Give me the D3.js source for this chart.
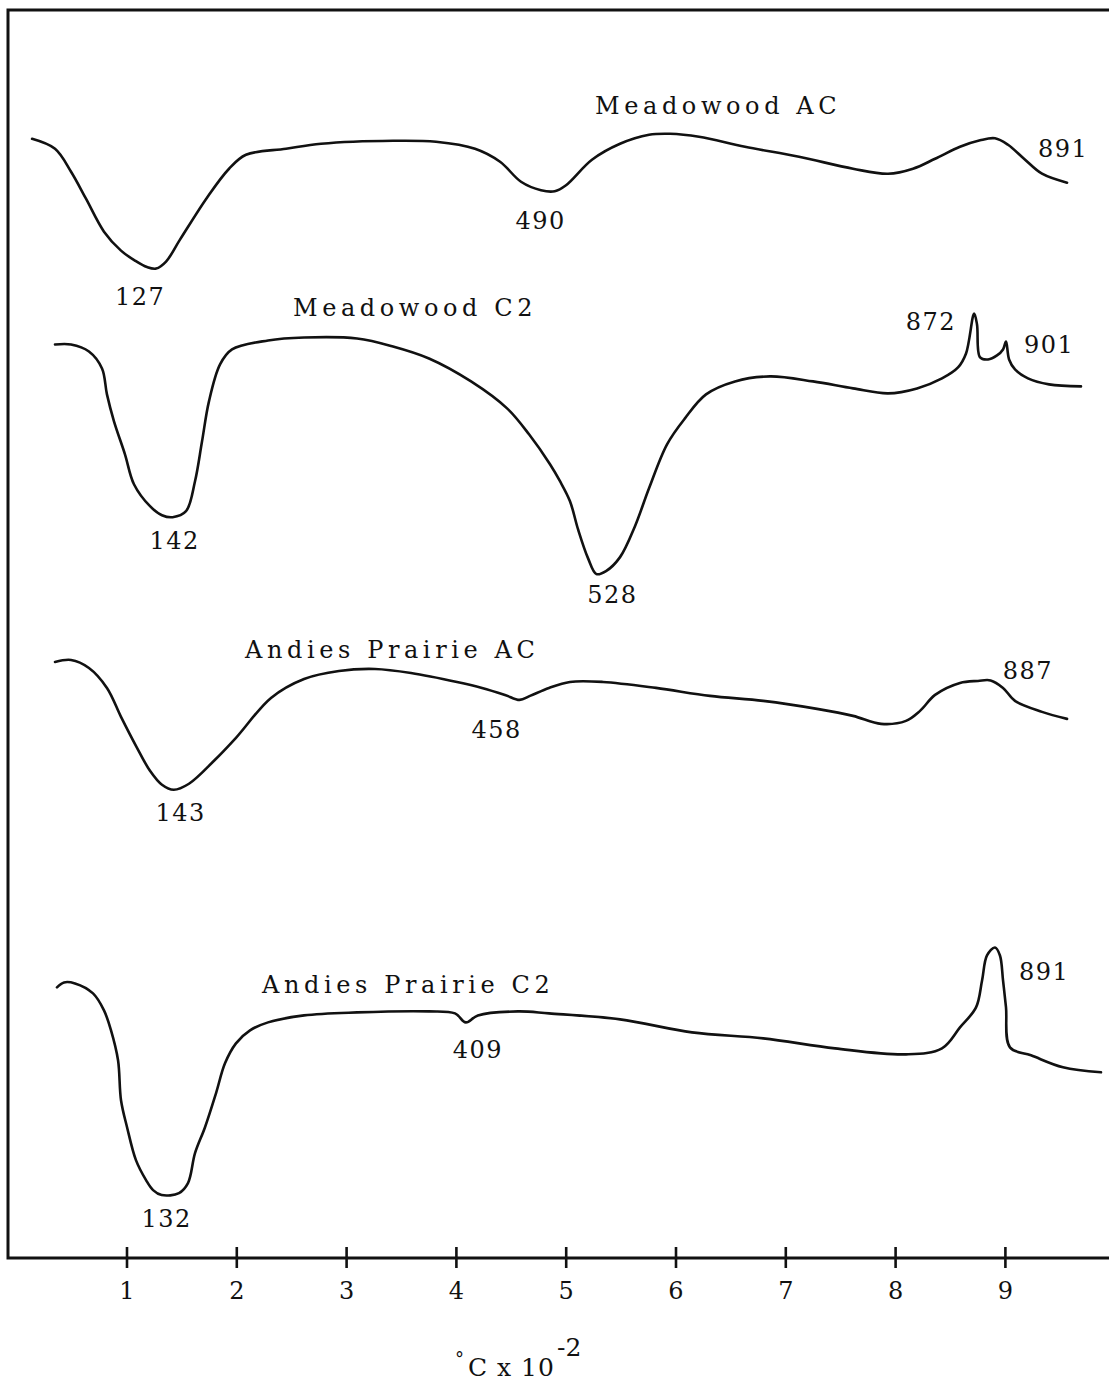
<!DOCTYPE html>
<html>
<head>
<meta charset="utf-8">
<script src="https://cdn.jsdelivr.net/npm/d3@7"></script>
<style>
  html, body { margin: 0; padding: 0; background: #fff; }
  svg { display: block; }
  .lbl { font-family: "DejaVu Serif", serif; fill: #111; }
</style>
</head>
<body>
<svg id="chart" width="1109" height="1385"></svg>
<script>
// Differential thermal analysis traces: temperature (°C) vs. deflection (arbitrary units,
// positive = exothermic), each trace drawn about its own vertical offset.

const seriesNames = ["Meadowood AC", "Meadowood C2", "Andies Prairie AC", "Andies Prairie C2"];
const traceOffsets = [111.8, 91.8, 58.8, 24.6];

const tempsMeadowoodAC = [14.0, 34.9, 49.5, 63.1, 79.5, 95.0, 107.7, 118.7, 127, 136.0, 148.7, 173.3, 193.4, 208.8,
  245.3, 277.2, 342.8, 381.9, 417.4, 440.2, 459.3, 477.5, 490, 500.3, 523.9, 549.5, 575.9, 595.0, 621.4, 663.3,
  712.5, 761.7, 793.6, 816.3, 836.4, 859.1, 877.4, 891, 902.8, 917.4, 933.8, 956.6];
const deflMeadowoodAC = [0.3, -0.7, -3.0, -5.7, -9.0, -10.9, -11.9, -12.55, -12.7, -12.0, -9.8, -5.6, -2.7, -1.3,
  -0.7, -0.2, 0.1, 0.0, -0.7, -2.0, -4.0, -4.85, -4.95, -4.35, -1.8, -0.2, 0.7, 0.8, 0.5, -0.5,
  -1.5, -2.7, -3.2, -2.7, -1.7, -0.5, 0.15, 0.35, -0.3, -1.7, -3.2, -4.1];

const tempsMeadowoodC2 = [34.9, 49.5, 65.8, 77.7, 82.2, 88.6, 98.6, 106.8, 121.4, 132.3, 142, 154.2, 162.4, 168.8,
  175.1, 185.2, 196.1, 228.9, 261.7, 310.0, 342.7, 375.5, 413.8, 446.6, 466.6, 485.7, 494.8, 503.9, 511.2, 520.3,
  528, 536.7, 549.5, 563.1, 575.9, 592.3, 608.6, 627.8, 654.2, 686.1, 725.3, 761.7, 793.6, 820.0, 842.7, 857.3,
  864.6, 872, 874.6, 877.4, 884.7, 892.8, 898.3, 901, 903.8, 909.2, 921.0, 940.2, 969.3];
const deflMeadowoodC2 = [-0.3, -0.3, -1.0, -2.7, -5.3, -8.0, -11.3, -14.3, -16.5, -17.4, -17.6, -17.0, -14.0, -10.0,
  -6.0, -2.3, -0.8, 0.1, 0.4, 0.3, -0.5, -1.7, -4.0, -6.7, -9.3, -12.3, -14.0, -16.0, -18.8, -21.7,
  -23.3, -23.0, -21.6, -18.5, -14.7, -10.3, -7.7, -5.3, -4.0, -3.5, -4.0, -4.7, -5.2, -4.7, -3.7, -2.6,
  -1.2, 2.8, 1.7, -1.6, -1.8, -1.4, -0.8, 0.0, -1.8, -2.8, -3.7, -4.3, -4.5];

const tempsAndiesAC = [34.9, 49.5, 65.8, 82.2, 95.0, 108.6, 121.4, 132.3, 143, 156.9, 179.7, 199.7, 231.6, 261.7,
  293.5, 326.3, 359.1, 401.0, 423.8, 444.7, 458, 467.5, 484.8, 503.9, 533.9, 582.3, 631.4, 679.9, 728.9, 761.7,
  787.2, 809.9, 822.7, 836.4, 859.1, 875.5, 887, 898.3, 909.2, 933.8, 956.6];
const deflAndiesAC = [0.9, 1.1, 0.3, -1.7, -4.6, -7.5, -10.0, -11.4, -11.9, -11.3, -9.0, -6.7, -2.7, -0.8,
  0.0, 0.2, -0.2, -1.1, -1.7, -2.4, -2.9, -2.5, -1.7, -1.1, -1.1, -1.7, -2.5, -3.0, -3.8, -4.5,
  -5.3, -5.0, -4.0, -2.4, -1.2, -1.0, -0.95, -1.7, -3.0, -4.1, -4.8];

const tempsAndiesC2 = [36.7, 43.1, 53.1, 69.5, 79.5, 85.9, 92.3, 95.0, 100.5, 108.6, 117.8, 124.2, 132, 147.8,
  156.0, 162.4, 171.5, 181.5, 189.7, 199.7, 212.5, 228.9, 261.7, 310.0, 375.5, 399.2, 409, 420.0, 456.6, 484.8,
  549.5, 615.0, 679.9, 745.3, 810.0, 842.7, 859.1, 873.7, 879.2, 883.7, 891, 895.5, 898.3, 901.0, 904.6, 923.8,
  952.9, 987.5];
const deflAndiesC2 = [2.5, 3.0, 2.9, 1.9, 0.2, -1.8, -4.8, -8.8, -11.5, -14.8, -16.8, -17.8, -18.3, -18.1,
  -17.1, -14.1, -11.5, -8.1, -5.1, -3.1, -1.8, -1.0, -0.3, 0.0, 0.1, -0.1, -1.0, -0.3, 0.1, -0.1,
  -0.7, -2.0, -2.6, -3.6, -4.2, -3.6, -1.5, 0.5, 3.2, 5.7, 6.5, 5.7, 3.2, 0.5, -3.5, -4.3,
  -5.5, -6.0];

// labelled peak temperatures (°C) for each trace
const peakTemps = [[127, 490, 891], [142, 528, 872, 901], [143, 458, 887], [132, 409, 891]];

const tickValues = [100, 200, 300, 400, 500, 600, 700, 800, 900];
const tickLabels = ["1", "2", "3", "4", "5", "6", "7", "8", "9"];
const axisTitle = ["°", "C x 10", "-2"];

// ---- layout ----
const frame = { left: 8, top: 10, right: 1109, bottom: 1258 };
// label placement relative to its peak: [dx, dy, anchor]
const peakLabelLayout = [
  [[-16, 36, "middle"], [-14, 37.5, "middle"], [43, 18.5, "start"]],
  [[2, 32, "middle"], [16, 29, "middle"], [-18, 16, "end"], [18, 12, "start"]],
  [[7, 31, "middle"], [-23, 38, "middle"], [12, -1.5, "start"]],
  [[5, 32, "middle"], [12, 36, "middle"], [24, 33, "start"]]
];
// trace name: starting temperature and baseline shift (px) from the trace offset
const nameLayout = [[526.7, -28], [251.6, -25], [207.9, -13], [223.4, -19]];

const traces = [
  d3.zip(tempsMeadowoodAC, deflMeadowoodAC),
  d3.zip(tempsMeadowoodC2, deflMeadowoodC2),
  d3.zip(tempsAndiesAC, deflAndiesAC),
  d3.zip(tempsAndiesC2, deflAndiesC2)
];

const svg = d3.select("#chart");

const x = d3.scaleLinear().domain([0, 1000]).range([16.7, 1114.7]);
const y = d3.scaleLinear().domain([0, 125]).range([frame.bottom, frame.top]);

// plot frame: top rule, left rule, baseline
svg.append("path")
  .attr("d", `M${frame.right},${frame.top}H${frame.left}V${frame.bottom}H${frame.right}`)
  .attr("fill", "none")
  .attr("stroke", "#111")
  .attr("stroke-width", 3);

// x axis with ticks crossing the baseline
const axis = d3.axisBottom(x)
  .tickValues(tickValues)
  .tickFormat((d, i) => tickLabels[i])
  .tickSize(10)
  .tickSizeOuter(0);

const gx = svg.append("g")
  .attr("transform", `translate(0,${frame.bottom})`)
  .call(axis);
gx.select(".domain").remove();
gx.selectAll(".tick line")
  .attr("y1", -11).attr("y2", 10)
  .attr("stroke", "#111").attr("stroke-width", 2.6);
gx.selectAll(".tick text")
  .attr("class", "lbl")
  .attr("y", 24)
  .attr("dy", "0.71em")
  .style("font-size", "24px")
  .style("font-family", "'DejaVu Serif', serif")
  .attr("fill", "#111");

// axis title: °C x 10^-2
const title = svg.append("text")
  .attr("class", "lbl")
  .attr("x", 455)
  .attr("y", 1376)
  .style("font-size", "25px");
title.append("tspan").text(axisTitle[0]).style("font-size", "18px").attr("dy", -11);
title.append("tspan").text(axisTitle[1]).attr("dx", 4).attr("dy", 11).style("letter-spacing", "1px");
title.append("tspan").text(axisTitle[2]).attr("dx", 2).attr("dy", -20).style("font-size", "25px");

// traces
const line = d3.line()
  .x(d => x(d[0]))
  .y(d => y(d[1]))
  .curve(d3.curveCatmullRom.alpha(0.5));

traces.forEach((pts, i) => {
  const off = traceOffsets[i];
  const shifted = pts.map(([t, v]) => [t, v + off]);

  svg.append("path")
    .datum(shifted)
    .attr("d", line)
    .attr("fill", "none")
    .attr("stroke", "#111")
    .attr("stroke-width", 2.6)
    .attr("stroke-linejoin", "round")
    .attr("stroke-linecap", "round");

  // trace name
  const [nt, ndy] = nameLayout[i];
  svg.append("text")
    .attr("class", "lbl")
    .attr("x", x(nt))
    .attr("y", y(off) + ndy)
    .style("font-size", "24px")
    .style("letter-spacing", "4.6px")
    .text(seriesNames[i]);

  // peak temperature labels
  peakTemps[i].forEach((pt, j) => {
    const p = shifted.find(d => d[0] === pt);
    const [dx, dy, anchor] = peakLabelLayout[i][j];
    svg.append("text")
      .attr("class", "lbl")
      .attr("x", x(p[0]) + dx)
      .attr("y", y(p[1]) + dy)
      .attr("text-anchor", anchor)
      .style("font-size", "24px")
      .style("letter-spacing", "1.5px")
      .text(pt);
  });
});
</script>
</body>
</html>
